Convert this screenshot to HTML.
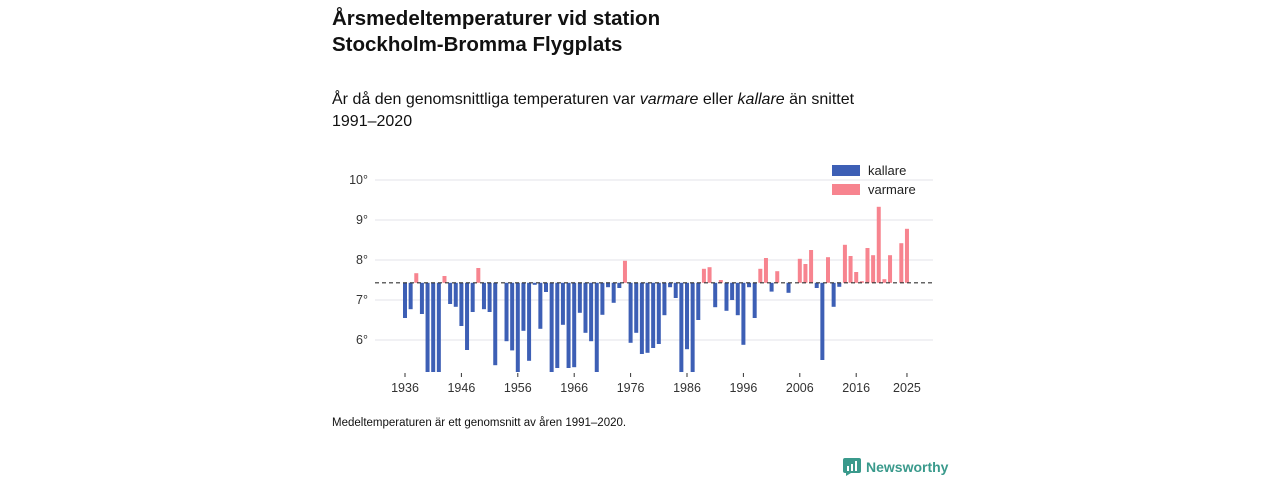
<!DOCTYPE html>
<html><head><meta charset="utf-8">
<style>
body{margin:0;width:1280px;height:480px;background:#fff;font-family:"Liberation Sans","DejaVu Sans",sans-serif;color:#111;position:relative;overflow:hidden}
.t{position:absolute;left:332px;top:6px;font-size:20.5px;font-weight:bold;line-height:26px}
.s{position:absolute;left:332px;top:89px;font-size:16px;line-height:22px}
.f{position:absolute;left:332px;top:417px;font-size:11.5px}
.logo{position:absolute;left:843px;top:458px;font-size:14px;color:#3a9a8c;font-weight:bold;display:flex;align-items:center;gap:5px}
svg{position:absolute;left:0;top:0}
</style></head><body>
<div class="t">Årsmedeltemperaturer vid station<br>Stockholm-Bromma Flygplats</div>
<div class="s">År då den genomsnittliga temperaturen var <i>varmare</i> eller <i>kallare</i> än snittet<br>1991–2020</div>
<div class="f">Medeltemperaturen är ett genomsnitt av åren 1991–2020.</div>
<div class="logo"><svg style="position:static" width="18" height="18" viewBox="0 0 18 18"><rect x="0" y="0" width="18" height="15" rx="2" fill="#3a9a8c"/><polygon points="3,15 8,15 3,18" fill="#3a9a8c"/><rect x="4" y="8" width="2" height="5" fill="#fff"/><rect x="8" y="6" width="2" height="7" fill="#fff"/><rect x="12" y="3" width="2" height="10" fill="#fff"/></svg><span>Newsworthy</span></div>
<svg id="chart" width="1280" height="480"></svg>
<script>
const years=[];for(let y=1936;y<=2025;y++)years.push(y);
const temps=[6.55,6.77,7.67,6.65,5.2,5.2,5.2,7.6,6.9,6.83,6.35,5.75,6.7,7.8,6.77,6.7,5.37,7.43,5.97,5.74,5.2,6.23,5.48,7.38,6.28,7.2,5.2,5.3,6.38,5.3,5.32,6.68,6.18,5.97,5.2,6.63,7.32,6.93,7.3,7.98,5.93,6.18,5.65,5.68,5.8,5.9,6.62,7.32,7.05,5.2,5.77,5.2,6.5,7.78,7.82,6.82,7.5,6.73,7.0,6.62,5.88,7.32,6.55,7.78,8.05,7.21,7.72,7.43,7.18,7.43,8.03,7.9,8.25,7.3,5.5,8.07,6.83,7.33,8.38,8.1,7.7,7.47,8.3,8.12,9.33,7.52,8.12,7.43,8.42,8.78];
const baseline=7.43;
const yTicks=[6,7,8,9,10];
const xTicks=[1936,1946,1956,1966,1976,1986,1996,2006,2016,2025];
const svg=document.getElementById('chart');const NS='http://www.w3.org/2000/svg';
const X=yr=>405+(yr-1936)*5.64;const Y=v=>300-(v-7)*40;
function mk(t,a){const e=document.createElementNS(NS,t);for(const k in a)e.setAttribute(k,a[k]);svg.appendChild(e);return e;}
yTicks.forEach(v=>{const l=mk('line',{x1:375,x2:933,y1:Y(v),y2:Y(v),stroke:'#e3e3e8','stroke-width':1});


const t=mk('text',{x:368,y:Y(v)+4,'text-anchor':'end','font-size':12.5,fill:'#333','font-family':'Liberation Sans, sans-serif'});t.textContent=v+'°';

});
const bottom=Y(5.2);
temps.forEach((v,i)=>{const x=X(years[i]);const y0=Y(baseline);const y1=Y(Math.max(v,5.2));
const r=mk('rect',{x:x-2,width:4,y:Math.min(y0,y1),height:Math.abs(y1-y0),fill:v>=baseline?'#f7848f':'#3d5fb5'});

});
const bl=mk('line',{x1:375,x2:933,y1:Y(baseline),y2:Y(baseline),stroke:'#333','stroke-width':1.2,'stroke-dasharray':'4,3'});


xTicks.forEach(yr=>{const x=X(yr);const l=mk('line',{x1:x,x2:x,y1:bottom+1,y2:bottom+5,stroke:'#333'});


const t=mk('text',{x:x,y:392,'text-anchor':'middle','font-size':12.5,fill:'#333','font-family':'Liberation Sans, sans-serif'});t.textContent=yr;

});
[['kallare','#3d5fb5',171],['varmare','#f7848f',190]].forEach(([n,c,y])=>{const r=mk('rect',{x:832,y:y-6,width:28,height:11,fill:c});


const t=mk('text',{x:868,y:y+4,'font-size':13,fill:'#222','font-family':'Liberation Sans, sans-serif'});t.textContent=n;

});
</script>
</body></html>
